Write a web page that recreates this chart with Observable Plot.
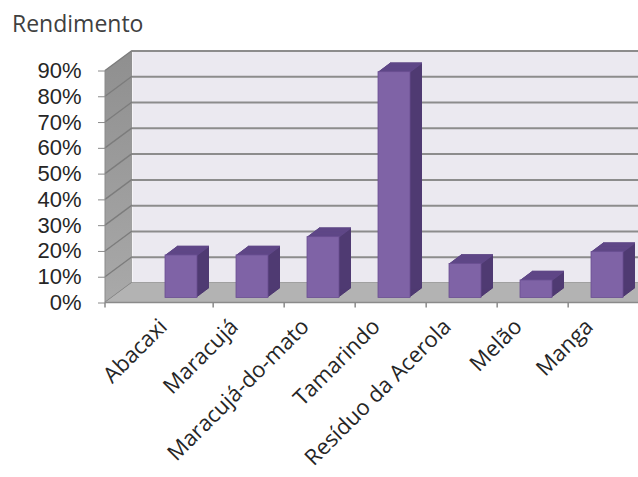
<!DOCTYPE html>
<html><head><meta charset="utf-8">
<script src="https://cdn.jsdelivr.net/npm/d3@7"></script>
<script src="https://cdn.jsdelivr.net/npm/@observablehq/plot@0.6"></script>
<style>
html,body{margin:0;padding:0;background:#fff;overflow:hidden;}
#title{position:relative;height:40px;}
#title span{position:absolute;left:12px;top:12px;font:23px/23px "Open Sans",sans-serif;color:#404040;white-space:nowrap;}
#chart svg [aria-label^="y-axis"] text{fill:#262626;font-family:"Liberation Sans",Arial,sans-serif;font-size:22px;}
</style></head>
<body>
<div id="title"><span id="titleText"></span></div>
<div id="chart"></div>
<script>
// ---- data ----
const titleText = "Rendimento";
const categories = ["Abacaxi", "Maracujá", "Maracujá-do-mato", "Tamarindo", "Resíduo da Acerola", "Melão", "Manga"];
const rendimento = [0.165, 0.165, 0.236, 0.876, 0.132, 0.068, 0.178];
const yTicks = [0, 0.1, 0.2, 0.3, 0.4, 0.5, 0.6, 0.7, 0.8, 0.9];
const yTickLabels = ["0%", "10%", "20%", "30%", "40%", "50%", "60%", "70%", "80%", "90%"];

document.getElementById("titleText").textContent = titleText;
const data = categories.map((c, i) => ({categoria: c, valor: rendimento[i]}));

// ---- layout ----
const W = 638, H = 437;
const depthX = 27, depthY = 20;          // wall depth
const barShiftX = 3, barShiftY = 5;      // bar placement inside floor depth
const barDepthX = 12, barDepthY = 9;     // bar extrusion
const xRange = [140, 642], padIn = 0.553, padOut = 0.2765;
const step = (xRange[1] - xRange[0]) / (categories.length - padIn + 2 * padOut);
const bw = step * (1 - padIn);

const frontCol = "#7f63a6", sideCol = "#4f3a72", topCol = "#5f4787";

function walls(index, scales, values, dim) {
  const L = dim.marginLeft, R = dim.width - dim.marginRight, T = dim.marginTop, B = dim.height - dim.marginBottom;
  const g = d3.create("svg:g");
  const defs = g.append("defs");
  const lg = defs.append("linearGradient").attr("id", "lwGrad").attr("x1", 0).attr("y1", 0).attr("x2", 0).attr("y2", 1);
  lg.append("stop").attr("offset", "0%").attr("stop-color", "#8f8f8f");
  lg.append("stop").attr("offset", "100%").attr("stop-color", "#a9a9a9");
  g.append("path")
    .attr("d", `M${L},${B}L${L},${T}L${L + depthX},${T - depthY}L${L + depthX},${B - depthY}Z`)
    .attr("fill", "url(#lwGrad)");
  for (const v of yTicks) {
    const y = scales.y(v);
    g.append("line").attr("x1", L).attr("y1", y).attr("x2", L + depthX).attr("y2", y - depthY)
      .attr("stroke", "#7c7c7c").attr("stroke-width", 1.4);
  }
  g.append("line").attr("x1", L).attr("y1", T).attr("x2", L).attr("y2", B).attr("stroke", "#8a8a8a").attr("stroke-width", 1);
  g.append("path")
    .attr("d", `M${L},${B}L${L + depthX},${B - depthY}L${R + depthX},${B - depthY}L${R},${B}Z`)
    .attr("fill", "#b3b3b3");
  g.append("line").attr("x1", L).attr("y1", B).attr("x2", R).attr("y2", B).attr("stroke", "#8a8a8a").attr("stroke-width", 1.5);
  return g.node();
}

function catTicks(index, scales, values, dim) {
  const L = dim.marginLeft, B = dim.height - dim.marginBottom;
  const g = d3.create("svg:g").attr("stroke", "#8a8a8a").attr("stroke-width", 1.5);
  const xs = [L].concat(categories.slice(1).map(c => scales.x(c) - (step - bw) / 2));
  for (const x of xs) g.append("line").attr("x1", x).attr("x2", x).attr("y1", B).attr("y2", B + 5);
  return g.node();
}

const sideMarks = [], topMarks = [];
for (let i = 1; i <= barDepthX; i++) {
  const dx = barShiftX + i, dy = -barShiftY - i * barDepthY / barDepthX;
  sideMarks.push(Plot.barY(data, {x: "categoria", y: "valor", fill: sideCol, dx, dy}));
}
for (let i = 0; i <= barDepthX; i++) {
  const dx = barShiftX + i, dy = -barShiftY - i * barDepthY / barDepthX;
  topMarks.push(Plot.tickY(data, {x: "categoria", y: "valor", stroke: topCol, strokeWidth: 1.6, dx, dy}));
}

const chart = Plot.plot({
  width: W, height: H,
  marginLeft: 105, marginRight: 0, marginTop: 30.5, marginBottom: 174.5,
  style: {fontFamily: "Open Sans, sans-serif", fontSize: "22px", color: "#8a8a8a", background: "white", overflow: "hidden"},
  x: {domain: categories, range: xRange, paddingInner: padIn, paddingOuter: padOut, axis: null},
  y: {domain: [0, 0.9], ticks: yTicks, tickFormat: (d) => yTickLabels[yTicks.indexOf(d)] ?? "", tickSize: 7, tickPadding: 17, label: null},
  marks: [
    Plot.frame({fill: "#ebe9f0", dx: depthX, dy: -depthY}),
    Plot.ruleY(yTicks, {stroke: "#8c8c8c", strokeWidth: 2, dx: depthX, dy: -depthY}),
    walls,
    ...sideMarks,
    ...topMarks,
    Plot.barY(data, {x: "categoria", y: "valor", fill: frontCol, stroke: "#6a4f92", strokeWidth: 0.8, dx: barShiftX, dy: -barShiftY}),
    catTicks,
    Plot.text(data, {x: "categoria", text: "categoria", frameAnchor: "bottom", rotate: -45, textAnchor: "end", lineAnchor: "middle", fill: "#262626", fontSize: 22, dx: -15, dy: 20})
  ]
});
document.getElementById("chart").appendChild(chart);
</script>
</body></html>
